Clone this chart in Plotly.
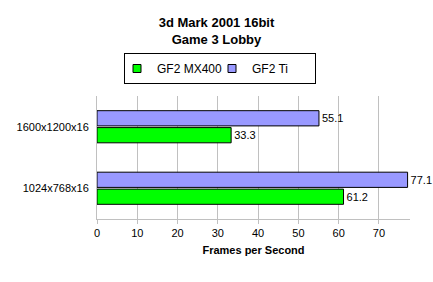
import plotly.graph_objects as go

categories = ["1024x768x16", "1600x1200x16"]
mx400 = [61.2, 33.3]
ti = [77.1, 55.1]
series_names = ["GF2 MX400", "GF2 Ti"]
colors = ["#00FF00", "#9999FF"]

fig = go.Figure()
for name, vals, col in zip(series_names, [mx400, ti], colors):
    fig.add_trace(go.Bar(
        y=categories, x=vals, name=name, orientation="h",
        marker=dict(color=col, line=dict(color="black", width=1)),
        text=[f"{v:.1f}" for v in vals], textposition="outside",
        textfont=dict(family="Liberation Sans, Arial", size=11, color="black"),
        cliponaxis=False, showlegend=False,
    ))
# legend entries with small square swatches
for name, col in zip(series_names, colors):
    fig.add_trace(go.Scatter(
        x=[None], y=[None], mode="markers", name=name,
        marker=dict(symbol="square", size=8, color=col, line=dict(color="black", width=1)),
    ))

fig.update_layout(
    width=433, height=282,
    margin=dict(l=97, r=23, t=93, b=63),
    paper_bgcolor="white", plot_bgcolor="white",
    barmode="group", bargap=0.45, bargroupgap=0.1,
    font=dict(family="Liberation Sans, Arial", size=11, color="black"),
    title=dict(text="<b>3d Mark 2001 16bit<br>Game 3 Lobby</b>",
               x=0.5, xref="container", xanchor="center",
               y=1 - 27/282, yref="container", yanchor="top",
               font=dict(size=13, family="Liberation Sans, Arial", color="black")),
    legend=dict(orientation="h", x=220/433, xref="container", xanchor="center",
                y=1 - 53/282, yref="container", yanchor="top",
                bordercolor="black", borderwidth=1,
                font=dict(size=12), itemwidth=30,
                entrywidth=58, entrywidthmode="pixels", indentation=-8,
                traceorder="normal"),
    xaxis=dict(range=[0, 77.7], dtick=10, showgrid=True, gridcolor="#C0C0C0",
               zeroline=False, showline=True, linecolor="#C0C0C0",
               ticks="outside", ticklen=4, tickcolor="#C0C0C0",
               tickfont=dict(size=11),
               title=dict(text="<b>Frames per Second</b>", font=dict(size=11), standoff=8)),
    yaxis=dict(categoryorder="array", categoryarray=categories,
               showgrid=False, zeroline=False, showline=True, linecolor="#C0C0C0",
               ticks="", tickfont=dict(size=11), ticklabelstandoff=5),
)

fig.write_html("out.html")
